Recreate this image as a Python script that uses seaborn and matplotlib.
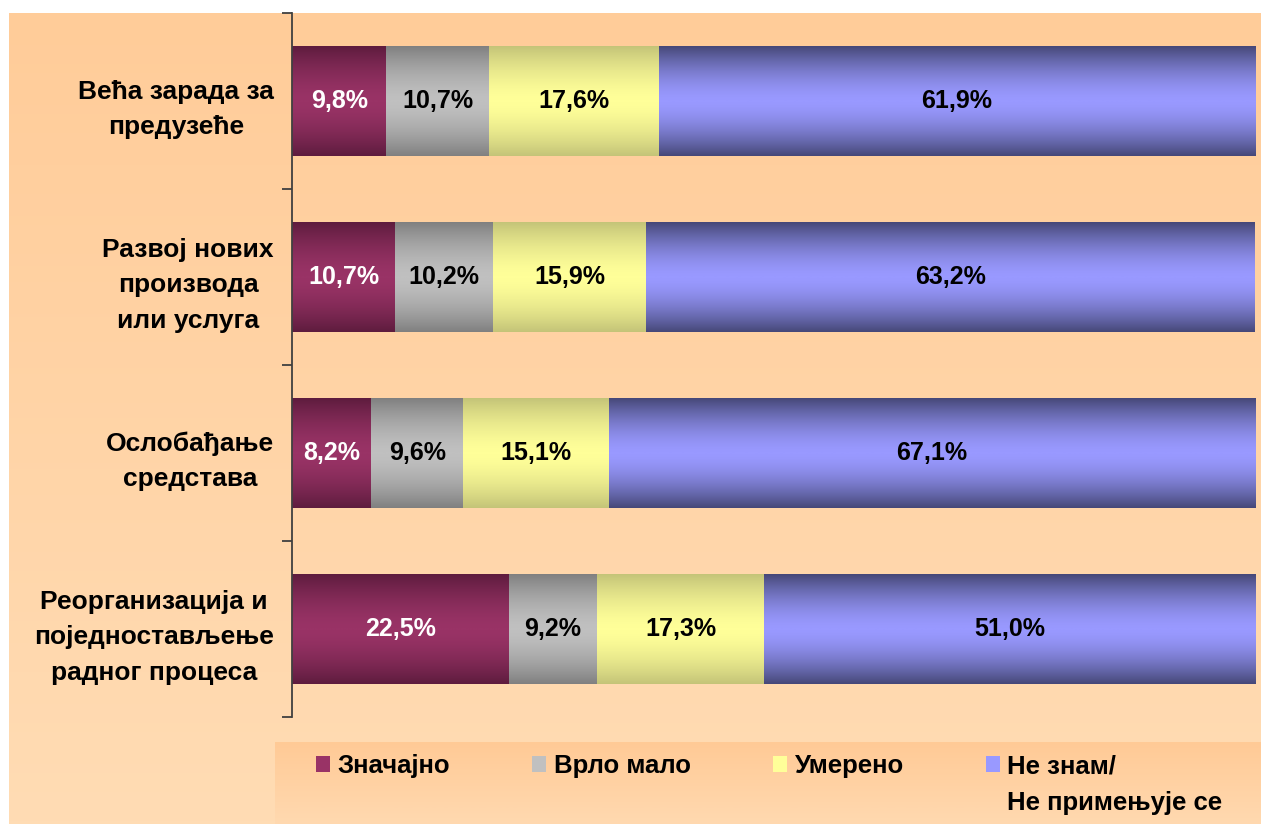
import numpy as np
import pandas as pd
import matplotlib
matplotlib.use("Agg")
import matplotlib.pyplot as plt
from matplotlib.colors import LinearSegmentedColormap
from matplotlib.patches import Patch
import seaborn as sns

# ---------------- data ----------------
categories = ["Већа зарада за\nпредузеће",
              "Развој нових\nпроизвода\nили услуга",
              "Ослобађање\nсредстава",
              "Реорганизација и\nпоједностављење\nрадног процеса"]
series_names = ["Значајно", "Врло мало", "Умерено", "Не знам/"]
last_name_line2 = "Не примењује се"
znacajno = [9.8, 10.7, 8.2, 22.5]
vrlo_malo = [10.7, 10.2, 9.6, 9.2]
umereno = [17.6, 15.9, 15.1, 17.3]
ne_znam = [61.9, 63.2, 67.1, 51.0]
series_values = [znacajno, vrlo_malo, umereno, ne_znam]

# ---------------- style ----------------
plt.rcParams['font.family'] = ['Liberation Sans', 'DejaVu Sans']
mid_colors = ["#993366", "#C0C0C0", "#FFFF99", "#9999FF"]
edge_colors = ["#5E1C3E", "#808080", "#C4C478", "#464878"]
label_colors = ["white", "black", "black", "black"]

W, H = 1261, 824
fig = plt.figure(figsize=(W / 100, H / 100), dpi=100, facecolor="white")

# background gradient (peach)
bg = fig.add_axes([9 / W, 0, 1 - 9 / W, 811 / H], zorder=-10)
bg_cmap = LinearSegmentedColormap.from_list("bg", ["#FFCC99", "#FFDCB4"])
bg.imshow(np.linspace(0, 1, 256).reshape(-1, 1), cmap=bg_cmap, aspect="auto",
          extent=(0, 1, 0, 1), origin="upper")
bg.set_axis_off()

# legend box gradient
lg = fig.add_axes([275 / W, 0, 1 - 275 / W, 82 / H], zorder=-9)
lg_cmap = LinearSegmentedColormap.from_list("lg", ["#FFCA96", "#FFD9B0"])
lg.imshow(np.linspace(0, 1, 256).reshape(-1, 1), cmap=lg_cmap, aspect="auto",
          extent=(0, 1, 0, 1), origin="upper")
lg.set_axis_off()

# main axes
ax = fig.add_axes([292 / W, 1 - 717 / H, 963 / W, 704 / H])
ax.set_facecolor("none")

lefts = np.zeros(len(categories))
for name, vals, col in zip(series_names, series_values, mid_colors):
    sns.barplot(x=list(vals), y=categories, order=categories, orient="h",
                color=col, left=lefts.copy(), width=0.625, errorbar=None,
                linewidth=0, saturation=1, ax=ax)
    lefts = lefts + np.array(vals)

# gradient overlay on each bar
containers = ax.containers
grad = np.concatenate([np.linspace(0, 1, 128), np.linspace(1, 0, 128)])
grad = 1 - (1 - grad) ** 1.6
for cont, ec, mc in zip(containers, edge_colors, mid_colors):
    cmap = LinearSegmentedColormap.from_list("g", [ec, mc])
    for p in cont.patches:
        x0, y0, w, h = p.get_x(), p.get_y(), p.get_width(), p.get_height()
        im = ax.imshow(grad.reshape(-1, 1), cmap=cmap, aspect="auto",
                       extent=(x0, x0 + w, y0 + h, y0), zorder=p.get_zorder() + 0.1,
                       interpolation="bilinear", vmin=0, vmax=1)
        im.set_clip_path(p)

# value labels
for cont, vals, lc in zip(containers, series_values, label_colors):
    ax.bar_label(cont, labels=[f"{v:.1f}%".replace(".", ",") for v in vals],
                 label_type="center", color=lc, fontsize=18, fontweight="bold",
                 zorder=5)

ax.set_xlim(0, 100)
ax.set_ylim(3.5, -0.5)
ax.set_xlabel("")
ax.set_ylabel("")
ax.set_xticks([])
for s in ["top", "right", "bottom"]:
    ax.spines[s].set_visible(False)
ax.spines["left"].set_color("#404040")
ax.spines["left"].set_linewidth(1.3)
ax.set_yticks(range(len(categories)))
ax.set_yticklabels(categories, fontsize=19, fontweight="bold",
                   ha="right", multialignment="center", linespacing=1.6)
ax.tick_params(axis="y", which="major", length=0, pad=13)
ax.set_yticks(np.arange(-0.5, len(categories), 1.0), minor=True)
ax.tick_params(axis="y", which="minor", length=7, width=1.3, color="#404040",
               direction="out")

# legend
leg_size = 18.5
handles = [Patch(facecolor=c, edgecolor="none") for c in mid_colors]
leg = fig.legend(handles, series_names, ncol=4, loc="upper left",
                 bbox_to_anchor=(316 / W, 1 - 754 / H), frameon=False,
                 prop={"size": leg_size, "weight": "bold"}, handlelength=0.55,
                 handleheight=0.55, handletextpad=0.3, columnspacing=3.18,
                 borderpad=0, borderaxespad=0)

fig.canvas.draw()
renderer = fig.canvas.get_renderer()
bb = leg.get_texts()[3].get_window_extent(renderer)
fig.text(bb.x0 / W, 1 - 803 / H, last_name_line2, ha="left", va="center",
         fontsize=leg_size, fontweight="bold")

fig.savefig("out.png", dpi=100, facecolor="white")
